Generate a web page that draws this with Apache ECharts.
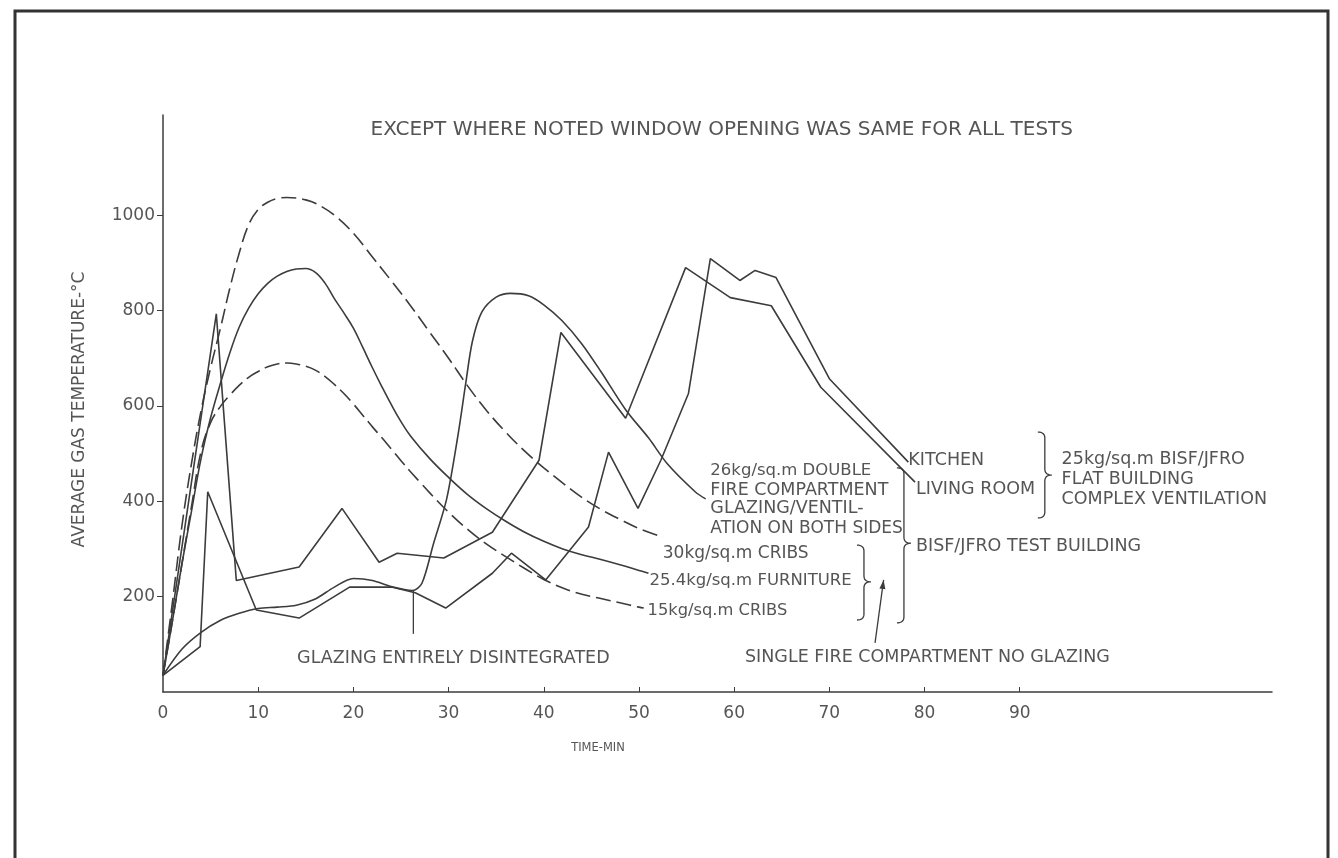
<!DOCTYPE html>
<html>
<head>
<meta charset="utf-8">
<script src="https://cdn.jsdelivr.net/npm/echarts@6/dist/echarts.min.js"></script>
<style>
html,body{margin:0;padding:0;background:#fff;}
#chart{width:1338px;height:858px;}
</style>
</head>
<body>
<div id="chart"></div>
<script>
// ---- data (time in min, temperature in °C) ----
const timeTicks = [0, 10, 20, 30, 40, 50, 60, 70, 80, 90];
const tempTicks = [200, 400, 600, 800, 1000];

const cribs30 = [[0,35],[1,190],[2,350],[3,480],[4,590],[5,680],[6,760],[7,845],[8,920],[9,980],[10,1012],[11,1027],[12,1035],[13,1037],[14,1036],[15,1032],[16,1025],[18,1000],[20,962],[22,912],[24,862],[26,810],[28,755],[30,700],[32,642],[34,590],[36,545],[38,505],[40,470],[42,438],[44,408],[46,383],[48,362],[50,343],[52.5,325]];
const furniture254 = [[0,35],[1,150],[2,270],[3,380],[4,490],[5,575],[6,645],[7,710],[8,765],[9,805],[10,835],[11,857],[12,872],[13,882],[14,887],[15,888],[16,880],[17,858],[18,825],[19,795],[20,763],[21,722],[22,680],[23,640],[24,602],[25,567],[26,537],[28,490],[30,450],[32,414],[34,384],[36,358],[38,335],[40,316],[42,300],[44,288],[46,278],[48,267],[50,255],[51,249]];
const cribs15 = [[0,35],[1,150],[2,270],[3,390],[4,505],[5,565],[6,598],[7,622],[8,643],[9,660],[10,672],[11,682],[12,688],[13,690],[14,688],[15,683],[16,675],[17,662],[18,645],[19,626],[20,604],[21,580],[22,556],[23,533],[24,509],[25,485],[26,462],[27,440],[28,418],[30,377],[32,341],[34,310],[36,284],[38,259],[40,236],[42,218],[44,205],[46,196],[48,187],[50,178],[50.5,176]];
const doubleFire26 = [[0,35],[2,90],[4,125],[6,150],[8,165],[10,175],[12,178],[14,182],[16,195],[18,220],[20,238],[22,234],[24,221],[26.2,213],[27.2,228],[28.4,310],[29.8,405],[31,540],[31.8,647],[32.5,735],[33.5,797],[35,828],[36.5,836],[38.4,831],[40,812],[41.9,779],[44,730],[46,672],[48.6,592],[51,533],[53,478],[55.9,420],[57,405]];
const kitchen = [[0,35],[3.9,95],[4.7,420],[9.8,172],[14.3,155],[19.6,220],[24,220],[26.5,208],[29.7,176],[34.6,249],[36.6,291],[40.2,235],[44.7,346],[46.8,503],[49.9,385],[52.3,486],[55.2,626],[57.5,909],[60.6,863],[62.2,884],[64.4,869],[70,657],[78.3,482]];
const livingRoom = [[0,35],[5.6,793],[7.7,234],[14.3,262],[18.8,385],[22.7,272],[24.6,291],[29.5,281],[34.6,335],[39.5,486],[41.8,754],[48.6,574],[54.9,890],[59.6,827],[63.9,810],[69.1,639],[79,440]];

// annotation texts anchored in data coordinates [time, temp]
const noteTexts = [
  {t: 58.7, v: 1178, s: 'EXCEPT WHERE NOTED WINDOW OPENING WAS SAME FOR ALL TESTS', align: 'center', size: 20},
  {t: 52.5, v: 291, s: '30kg/sq.m CRIBS', align: 'left', size: 17},
  {t: 51.1, v: 233, s: '25.4kg/sq.m FURNITURE', align: 'left', size: 16.5},
  {t: 50.9, v: 170, s: '15kg/sq.m CRIBS', align: 'left', size: 16.3},
  {t: 57.5, v: 463, s: '26kg/sq.m DOUBLE', align: 'left', size: 16.5},
  {t: 57.5, v: 423, s: 'FIRE COMPARTMENT', align: 'left'},
  {t: 57.5, v: 384, s: 'GLAZING/VENTIL-', align: 'left'},
  {t: 57.5, v: 342, s: 'ATION ON BOTH SIDES', align: 'left', size: 17},
  {t: 78.3, v: 486, s: 'KITCHEN', align: 'left'},
  {t: 79.1, v: 424, s: 'LIVING ROOM', align: 'left'},
  {t: 79.1, v: 306, s: 'BISF/JFRO TEST BUILDING', align: 'left'},
  {t: 94.4, v: 488, s: '25kg/sq.m BISF/JFRO', align: 'left'},
  {t: 94.4, v: 446, s: 'FLAT BUILDING', align: 'left'},
  {t: 94.4, v: 404, s: 'COMPLEX VENTILATION', align: 'left'},
  {t: 30.5, v: 71, s: 'GLAZING ENTIRELY DISINTEGRATED', align: 'center'},
  {t: 80.3, v: 73, s: 'SINGLE FIRE COMPARTMENT NO GLAZING', align: 'center'},
  {t: 45.7, v: -117, s: 'TIME-MIN', align: 'center', size: 11.5}
];
// braces: [time of open side, top temp, bottom temp, tip temp]
const braces = [[72.9, 308, 151, 231], [77.1, 470, 145, 312], [91.9, 545, 365, 455]];
const glazingPointer = [[26.3, 213], [26.3, 122]];
const singleArrow = [[74.8, 103], [75.7, 235]];

const INK = '#3c3c3c';
const TXT = '#555';
const FONT = 'DejaVu Sans';

const chart = echarts.init(document.getElementById('chart'), null, {renderer: 'canvas'});

function lineSeries(name, data, dashed, smooth) {
  return {
    name: name, type: 'line', data: data, showSymbol: false, symbol: 'none',
    smooth: smooth, silent: true, animation: false,
    lineStyle: {color: INK, width: 1.6, type: dashed ? [15, 6] : 'solid'}
  };
}

chart.setOption({
  backgroundColor: '#fff',
  animation: false,
  grid: {left: 163, right: 66, top: 115, bottom: 166},
  xAxis: {
    type: 'value', min: 0, max: 116.5, interval: 10,
    axisLine: {lineStyle: {color: INK, width: 1.5}},
    axisTick: {inside: true, length: 5, lineStyle: {color: INK}, customValues: timeTicks.slice(1)},
    axisLabel: {customValues: timeTicks, fontFamily: FONT, fontSize: 17, color: TXT, margin: 13,
      formatter: function (v) { return String(v); }},
    splitLine: {show: false}
  },
  yAxis: {
    type: 'value', min: 0, max: 1210, interval: 200,
    name: 'AVERAGE GAS TEMPERATURE-°C', nameLocation: 'middle', nameGap: 75, nameRotate: 90,
    nameTextStyle: {fontFamily: FONT, fontSize: 17, color: TXT, padding: [0, 12, 0, 0]},
    axisLine: {show: true, lineStyle: {color: INK, width: 1.5}},
    axisTick: {show: true, inside: false, length: 6, lineStyle: {color: INK}, customValues: tempTicks},
    axisLabel: {customValues: tempTicks, fontFamily: FONT, fontSize: 17, color: TXT, margin: 8,
      formatter: function (v) { return String(v); }},
    splitLine: {show: false}
  },
  series: [
    lineSeries('30kg/sq.m CRIBS', cribs30, true, 0.4),
    lineSeries('25.4kg/sq.m FURNITURE', furniture254, false, 0.4),
    lineSeries('15kg/sq.m CRIBS', cribs15, true, 0.4),
    lineSeries('26kg/sq.m DOUBLE FIRE COMPARTMENT', doubleFire26, false, 0.3),
    lineSeries('KITCHEN', kitchen, false, false),
    lineSeries('LIVING ROOM', livingRoom, false, false)
  ]
});

function px(p) { return chart.convertToPixel({gridIndex: 0}, p); }
function quad(p0, c, p1, out) {
  for (let i = 1; i <= 8; i++) {
    const s = i / 8, u = 1 - s;
    out.push([u * u * p0[0] + 2 * u * s * c[0] + s * s * p1[0], u * u * p0[1] + 2 * u * s * c[1] + s * s * p1[1]]);
  }
}

const g = [];
// frame
g.push({type: 'rect', shape: {x: 15, y: 11, width: 1313, height: 870}, style: {fill: null, stroke: '#333', lineWidth: 3}, silent: true});
noteTexts.forEach(function (n) {
  const p = px([n.t, n.v]);
  g.push({type: 'text', x: p[0], y: p[1], silent: true,
    style: {text: n.s, fill: TXT, font: (n.size || 17.5) + 'px ' + FONT,
      textAlign: n.align, textVerticalAlign: 'middle'}});
});
braces.forEach(function (b) {
  const top = px([b[0], b[1]]), bot = px([b[0], b[2]]), tip = px([b[0], b[3]]);
  const x0 = top[0], x1 = x0 + 7, x2 = x0 + 14, r = 6;
  const pts = [[x0, top[1]]];
  quad([x0, top[1]], [x1, top[1]], [x1, top[1] + r], pts);
  pts.push([x1, tip[1] - r]);
  quad([x1, tip[1] - r], [x1, tip[1]], [x2, tip[1]], pts);
  quad([x2, tip[1]], [x1, tip[1]], [x1, tip[1] + r], pts);
  pts.push([x1, bot[1] - r]);
  quad([x1, bot[1] - r], [x1, bot[1]], [x0, bot[1]], pts);
  g.push({type: 'polyline', shape: {points: pts}, style: {fill: null, stroke: INK, lineWidth: 1.3}, silent: true});
});
(function () {
  const a = px(glazingPointer[0]), b = px(glazingPointer[1]);
  g.push({type: 'line', shape: {x1: a[0], y1: a[1], x2: b[0], y2: b[1]}, style: {stroke: INK, lineWidth: 1.3}, silent: true});
  const s = px(singleArrow[0]), e = px(singleArrow[1]);
  g.push({type: 'line', shape: {x1: s[0], y1: s[1], x2: e[0], y2: e[1]}, style: {stroke: INK, lineWidth: 1.3}, silent: true});
  const ang = Math.atan2(e[1] - s[1], e[0] - s[0]);
  const L = 9, W = 3;
  const bx = e[0] - L * Math.cos(ang), by = e[1] - L * Math.sin(ang);
  const nx = -Math.sin(ang) * W, ny = Math.cos(ang) * W;
  g.push({type: 'polygon', shape: {points: [[e[0], e[1]], [bx + nx, by + ny], [bx - nx, by - ny]]}, style: {fill: INK}, silent: true});
})();
chart.setOption({graphic: g});
</script>
</body>
</html>
